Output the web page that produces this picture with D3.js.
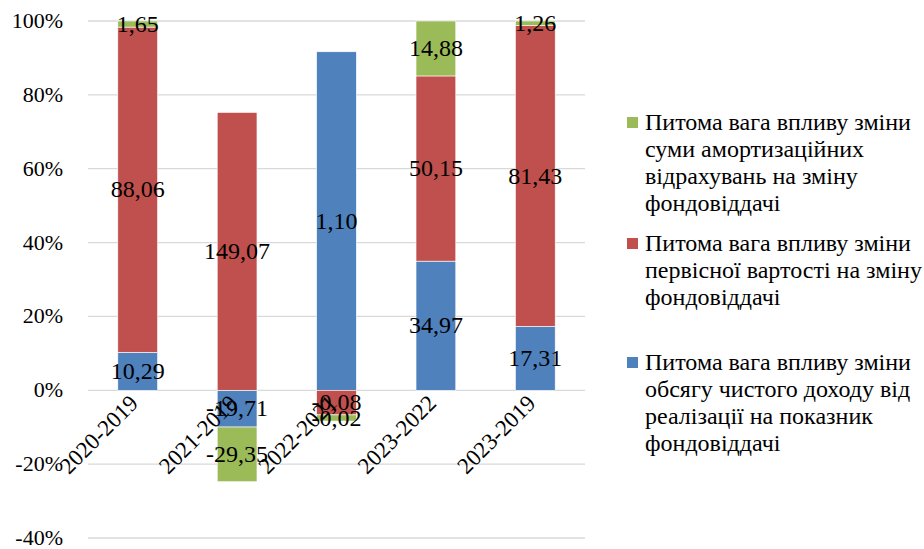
<!doctype html>
<html>
<head>
<meta charset="utf-8">
<script src="https://cdnjs.cloudflare.com/ajax/libs/d3/7.8.5/d3.min.js"></script>
<style>
  body { margin: 0; background: #fff; }
</style>
</head>
<body>
<svg id="chart" width="924" height="549" font-family="Liberation Serif"></svg>
<script>
// periods compared
var categories = ["2020-2019", "2021-2019", "2022-2021", "2023-2022", "2023-2019"];
// data labels of each series (shares of the factor influence)
var incomeShare = [10.29, -19.71, 1.10, 34.97, 17.31];
var costShare = [88.06, 149.07, -0.08, 50.15, 81.43];
var amortShare = [1.65, -29.35, -0.02, 14.88, 1.26];
var yTicks = [-40, -20, 0, 20, 40, 60, 80, 100];

var legendLines = [
  ["Питома вага впливу зміни", "обсягу чистого доходу від", "реалізації на показник", "фондовіддачі"],
  ["Питома вага впливу зміни", "первісної вартості на зміну", "фондовіддачі"],
  ["Питома вага впливу зміни", "суми амортизаційних", "відрахувань на зміну", "фондовіддачі"]
];
var colors = ["#4F81BD", "#C0504D", "#9BBB59"];
var keys = ["income", "cost", "amort"];

// 100% stacked like Excel: each value divided by sum of absolute values
var rows = categories.map(function(c, i) {
  var v = [incomeShare[i], costShare[i], amortShare[i]];
  var tot = d3.sum(v, function(d) { return Math.abs(d); });
  var r = { cat: c };
  keys.forEach(function(k, j) { r[k] = v[j] / tot * 100; r[k + "_raw"] = v[j]; });
  return r;
});

var stack = d3.stack().keys(keys).offset(d3.stackOffsetDiverging);
var layers = stack(rows);

var svg = d3.select("#chart");
var plotLeft = 88, plotRight = 585, plotTop = 21, plotBottom = 538;
var font = "'Liberation Serif', 'Times New Roman', serif";
var fmt = d3.format(".2f");

function txt(size) {
  return function(sel) {
    sel.style("font-family", font).style("font-size", size + "px").attr("fill", "#000");
  };
}

var x = d3.scaleBand().domain(categories).range([plotLeft, plotRight]).paddingInner(0.6).paddingOuter(0.3);
var y = d3.scaleLinear().domain([-40, 100]).range([plotBottom, plotTop]);

// gridlines
svg.append("g")
  .selectAll("line").data(yTicks).enter().append("line")
  .attr("x1", plotLeft).attr("x2", plotRight)
  .attr("y1", function(d) { return y(d); })
  .attr("y2", function(d) { return y(d); })
  .attr("stroke", "#D9D9D9").attr("stroke-width", 1.3);

// y tick labels
svg.append("g").selectAll("text").data(yTicks).enter().append("text")
  .attr("x", 63).attr("y", function(d) { return y(d); })
  .attr("dy", "0.32em").attr("text-anchor", "end")
  .call(txt(22))
  .text(function(d) { return d + "%"; });

// bars
var g = svg.append("g");
layers.forEach(function(layer, li) {
  g.selectAll(".bar" + li).data(layer).enter().append("rect")
    .attr("x", function(d) { return x(d.data.cat); })
    .attr("width", x.bandwidth())
    .attr("y", function(d) { return y(Math.max(d[0], d[1])); })
    .attr("height", function(d) { return Math.abs(y(d[0]) - y(d[1])); })
    .attr("fill", colors[li])
    .attr("stroke", "#fff").attr("stroke-width", 0.6);
});

// category labels
svg.append("g").selectAll("text").data(categories).enter().append("text")
  .attr("transform", function(d) {
    return "translate(" + (x(d) + x.bandwidth() / 2 - 4) + "," + 399 + ") rotate(-45)";
  })
  .attr("text-anchor", "end")
  .attr("dy", "0.35em")
  .call(txt(23))
  .text(function(d) { return d; });

// data labels
layers.forEach(function(layer, li) {
  var k = keys[li];
  svg.append("g").selectAll("text").data(layer).enter().append("text")
    .attr("x", function(d) { return x(d.data.cat) + x.bandwidth() / 2; })
    .attr("y", function(d) { return y((d[0] + d[1]) / 2); })
    .attr("dy", "0.32em").attr("text-anchor", "middle")
    .call(txt(24))
    .text(function(d) { return fmt(d.data[k + "_raw"]).replace("\u2212", "-").replace(".", ","); });
});

// legend (top entry is the last series)
var legendY = [122, 243, 362];
var legendOrder = [2, 1, 0];
legendOrder.forEach(function(si, i) {
  var lg = svg.append("g").attr("transform", "translate(627," + legendY[i] + ")");
  lg.append("rect").attr("x", 0).attr("y", -5).attr("width", 11).attr("height", 11).attr("fill", colors[si]);
  lg.append("text").attr("x", 18).attr("y", 0).call(txt(24))
    .selectAll("tspan").data(legendLines[si]).enter().append("tspan")
    .attr("x", 18).attr("dy", function(d, j) { return j === 0 ? "0.32em" : "27px"; })
    .text(function(d) { return d; });
});
</script>
</body>
</html>
